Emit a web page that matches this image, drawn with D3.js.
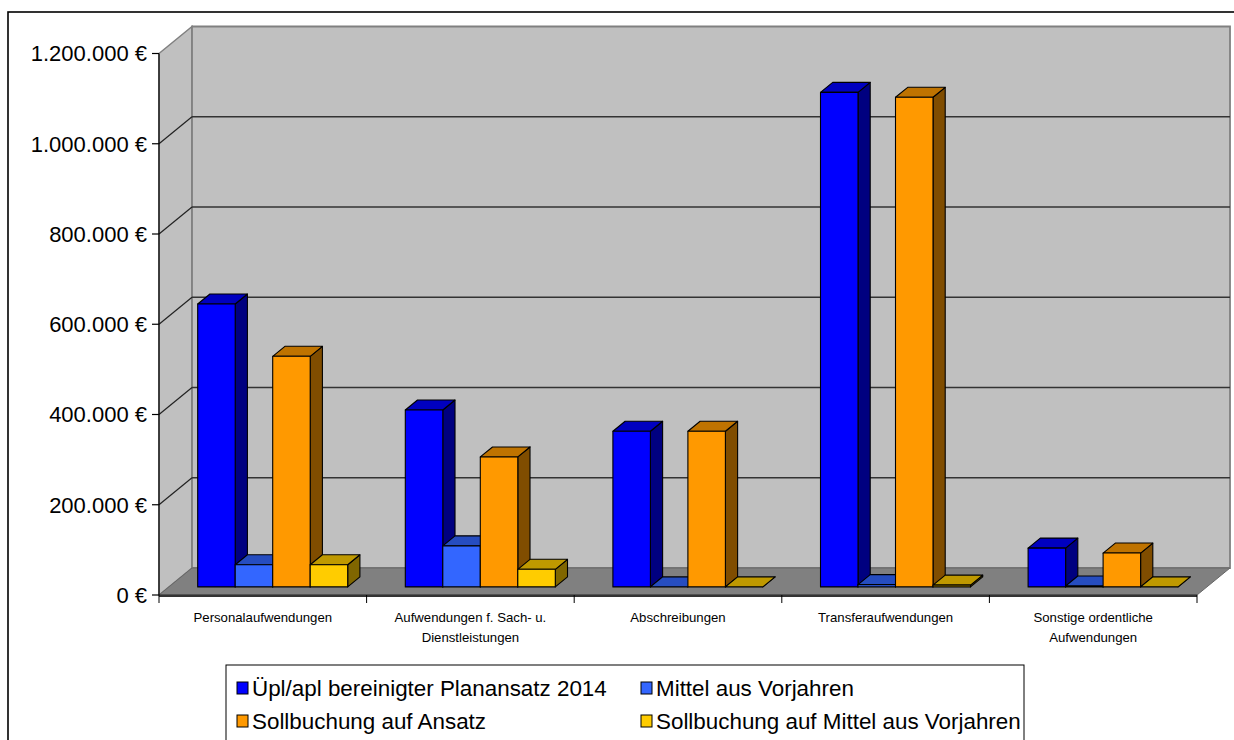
<!DOCTYPE html>
<html><head><meta charset="utf-8">
<script src="https://cdn.jsdelivr.net/npm/d3@7"></script>
<style>
html,body{margin:0;padding:0;background:#fff;overflow:hidden;}
svg{display:block;font-family:"Liberation Sans",Arial,sans-serif;}
</style></head>
<body>
<svg id="chart" width="1234" height="740"></svg>
<script>
// ---- data ----
const categories = [
  ["Personalaufwendungen"],
  ["Aufwendungen f. Sach- u.", "Dienstleistungen"],
  ["Abschreibungen"],
  ["Transferaufwendungen"],
  ["Sonstige ordentliche", "Aufwendungen"]
];
const seriesNames = [
  "Üpl/apl bereinigter Planansatz 2014",
  "Mittel aus Vorjahren",
  "Sollbuchung auf Ansatz",
  "Sollbuchung auf Mittel aus Vorjahren"
];
const planansatz   = [627000, 392000, 345000, 1096000, 86000];
const mittelVJ     = [49000, 91000, 0, 5000, 2000];
const sollAnsatz   = [511000, 288000, 345000, 1085000, 75000];
const sollMittelVJ = [49000, 39000, 0, 4000, 0];
const seriesValues = [planansatz, mittelVJ, sollAnsatz, sollMittelVJ];
const yTicks = [0, 200000, 400000, 600000, 800000, 1000000, 1200000];

const seriesColors = [
  {front:"#0000ff", top:"#0000c0", side:"#000080"},
  {front:"#3366ff", top:"#264dc0", side:"#1a3380"},
  {front:"#ff9900", top:"#bf7300", side:"#804d00"},
  {front:"#ffcc00", top:"#bf9900", side:"#806600"}
];

// ---- layout ----
const svg = d3.select("#chart");
const X0 = 159, X1 = 1197;       // front floor edge
const DX = 33, DY = 27;          // depth offset
const y = d3.scaleLinear().domain([0, 1200000]).range([595, 53.5]);
const x = d3.scaleBand().domain(d3.range(categories.length)).range([X0, X1]).padding(0);
const inner = d3.scaleBand().domain(d3.range(seriesNames.length))
  .range([28.8, x.bandwidth() - 28.8]).padding(0);
const d0 = 0.3, d1 = 0.67;
const P = (px, py, d) => [px + d * DX, py - d * DY];
const poly = pts => "M" + pts.map(p => p.join(",")).join("L") + "Z";

// outer frame
svg.append("rect").attr("x", 8).attr("y", 12).attr("width", 1240).attr("height", 760)
  .attr("fill", "none").attr("stroke", "#000").attr("stroke-width", 1.6);

const yMin = y(0), yMax = y(1200000);
// side wall
svg.append("path").attr("d", poly([[X0, yMax], P(X0, yMax, 1), P(X0, yMin, 1), [X0, yMin]]))
  .attr("fill", "#c0c0c0").attr("stroke", "#808080").attr("stroke-width", 1.5);
// back wall
svg.append("path").attr("d", poly([P(X0, yMax, 1), P(X1, yMax, 1), P(X1, yMin, 1), P(X0, yMin, 1)]))
  .attr("fill", "#c0c0c0").attr("stroke", "#808080").attr("stroke-width", 1.8);
// floor
svg.append("path").attr("d", poly([[X0, yMin], P(X0, yMin, 1), P(X1, yMin, 1), [X1, yMin]]))
  .attr("fill", "#808080").attr("stroke", "#666").attr("stroke-width", 1);

// gridlines
const gridT = yTicks.filter(t => t > 0 && t < 1200000);
gridT.forEach(t => {
  const a = P(X0, y(t), 1), b = P(X1, y(t), 1);
  svg.append("line").attr("x1", a[0]).attr("y1", a[1]).attr("x2", b[0]).attr("y2", b[1])
    .attr("stroke", "#333").attr("stroke-width", 1.3);
  svg.append("line").attr("x1", X0).attr("y1", y(t)).attr("x2", a[0]).attr("y2", a[1])
    .attr("stroke", "#222").attr("stroke-width", 1.2);
});

// front floor edge
svg.append("line").attr("x1", X0).attr("y1", yMin + 0.8).attr("x2", X1).attr("y2", yMin + 0.8)
  .attr("stroke", "#333").attr("stroke-width", 2.6);

// y axis
svg.append("line").attr("x1", X0).attr("y1", yMax).attr("x2", X0).attr("y2", yMin)
  .attr("stroke", "#000").attr("stroke-width", 1.2);
const fmt = v => d3.format(",")(v).replace(/,/g, ".") + " €";
const yAxis = svg.append("g").attr("class", "yaxis");
yTicks.forEach(t => {
  yAxis.append("line").attr("x1", X0 - 7).attr("x2", X0).attr("y1", y(t)).attr("y2", y(t))
    .attr("stroke", "#000").attr("stroke-width", 1.2);
  yAxis.append("text").attr("x", 147).attr("y", y(t)).attr("dy", "0.36em")
    .attr("text-anchor", "end").attr("font-size", 22).attr("fill", "#000").text(fmt(t));
});

// x ticks & labels
const boundaries = d3.range(categories.length + 1).map(i => X0 + i * x.step());
boundaries.forEach(bx => {
  svg.append("line").attr("x1", bx).attr("x2", bx).attr("y1", yMin).attr("y2", yMin + 8)
    .attr("stroke", "#000").attr("stroke-width", 1);
});
categories.forEach((lines, i) => {
  const t = svg.append("text").attr("text-anchor", "middle").attr("font-size", 13.2).attr("fill", "#000");
  lines.forEach((ln, j) => {
    t.append("tspan").attr("x", x(i) + x.bandwidth() / 2).attr("y", 622 + j * 20).text(ln);
  });
});

// bars
const bars = svg.append("g");
categories.forEach((c, ci) => {
  seriesNames.forEach((s, si) => {
    const v = seriesValues[si][ci];
    const xl = x(ci) + inner(si), xr = xl + inner.bandwidth();
    const fl = P(xl, y(v), d0), fr = P(xr, y(v), d0);
    const bl = P(xl, y(0), d0), br = P(xr, y(0), d0);
    const col = seriesColors[si];
    const g = bars.append("g").attr("stroke", "#000").attr("stroke-width", 1.1).attr("stroke-linejoin", "round");
    g.append("path").attr("d", poly([fr, P(xr, y(v), d1), P(xr, y(0), d1), br])).attr("fill", col.side);
    g.append("path").attr("d", poly([fl, fr, P(xr, y(v), d1), P(xl, y(v), d1)])).attr("fill", col.top);
    if (v > 0) g.append("path").attr("d", poly([fl, fr, br, bl])).attr("fill", col.front);
  });
});

// legend
const lg = svg.append("g");
lg.append("rect").attr("x", 226).attr("y", 665).attr("width", 798).attr("height", 120)
  .attr("fill", "#fff").attr("stroke", "#000").attr("stroke-width", 1);
const legPos = [[237, 688], [641, 688], [237, 721], [641, 721]];
seriesNames.forEach((s, i) => {
  const [lx, ly] = legPos[i];
  lg.append("rect").attr("x", lx).attr("y", ly - 6).attr("width", 11).attr("height", 12)
    .attr("fill", seriesColors[i].front).attr("stroke", "#000").attr("stroke-width", 1);
  lg.append("text").attr("x", lx + 15).attr("y", ly).attr("dy", "0.36em")
    .attr("font-size", 22.4).attr("fill", "#000").text(s);
});
</script>
</body></html>
